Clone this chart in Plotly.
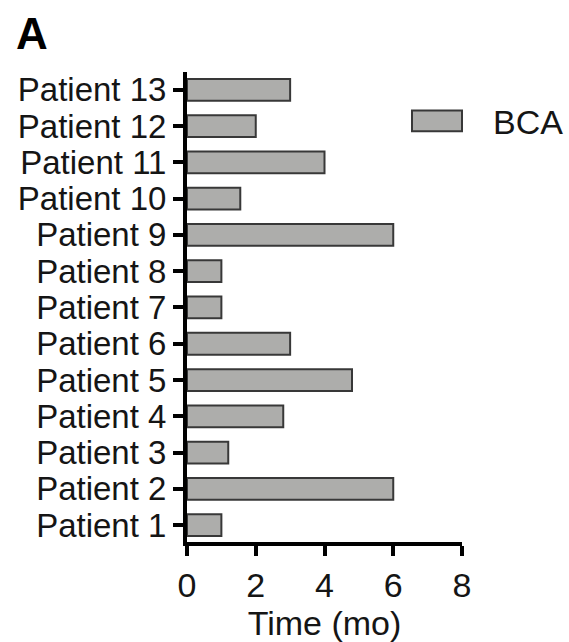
import plotly.graph_objects as go

patients = ["Patient 1", "Patient 2", "Patient 3", "Patient 4", "Patient 5", "Patient 6",
            "Patient 7", "Patient 8", "Patient 9", "Patient 10", "Patient 11", "Patient 12", "Patient 13"]
bca_months = [1.0, 6.0, 1.2, 2.8, 4.8, 3.0, 1.0, 1.0, 6.0, 1.55, 4.0, 2.0, 3.0]
x_ticks = [0, 2, 4, 6, 8]
series_name = "BCA"

FONT = "Liberation Sans, Arial, Helvetica, sans-serif"
FILL = "#adadab"
EDGE = "#383838"
TXT = "#151515"

fig = go.Figure()
fig.add_trace(go.Bar(
    y=patients, x=bca_months, orientation="h", name=series_name,
    width=0.6, marker=dict(color=FILL, line=dict(color=EDGE, width=2)),
    showlegend=False,
))

fig.update_layout(
    width=569, height=642,
    margin=dict(l=187, r=107, t=72, b=95),
    paper_bgcolor="white", plot_bgcolor="white",
    font=dict(family=FONT, color=TXT),
    xaxis=dict(range=[0, 8], tickvals=x_ticks, showline=True, linewidth=4, linecolor="black",
               ticks="outside", ticklen=10, tickwidth=4, tickcolor="black",
               tickfont=dict(size=34, family=FONT, color=TXT), showgrid=False, zeroline=False,
               title=dict(text="Time (mo)", font=dict(size=34, family=FONT, color=TXT), standoff=2)),
    yaxis=dict(range=[-0.464, 12.49], type="category", categoryorder="array", categoryarray=patients,
               tickmode="array", tickvals=patients, ticktext=patients,
               showline=True, linewidth=4, linecolor="black",
               ticks="outside", ticklen=10, tickwidth=4, tickcolor="black",
               tickfont=dict(size=33, family=FONT, color=TXT), showgrid=False, zeroline=False),
)

# legend drawn manually to match wide rectangular swatch
fig.add_shape(type="rect", xref="paper", yref="paper",
              x0=(412 - 187) / 275, x1=(462 - 187) / 275,
              y0=(642 - 95 - 132) / 475, y1=(642 - 95 - 111) / 475,
              fillcolor=FILL, line=dict(color=EDGE, width=2))
fig.add_annotation(xref="paper", yref="paper", x=(491 - 187) / 275, y=(642 - 95 - 123) / 475,
                   text=series_name, showarrow=False, xanchor="left", yanchor="middle",
                   font=dict(size=34, family=FONT, color=TXT))
# panel letter
fig.add_annotation(xref="paper", yref="paper", x=(14 - 187) / 275, y=(642 - 95 - 6) / 475,
                   text="<b>A</b>", showarrow=False, xanchor="left", yanchor="top",
                   font=dict(size=44, family=FONT, color="black"))

fig.write_html("out.html")
